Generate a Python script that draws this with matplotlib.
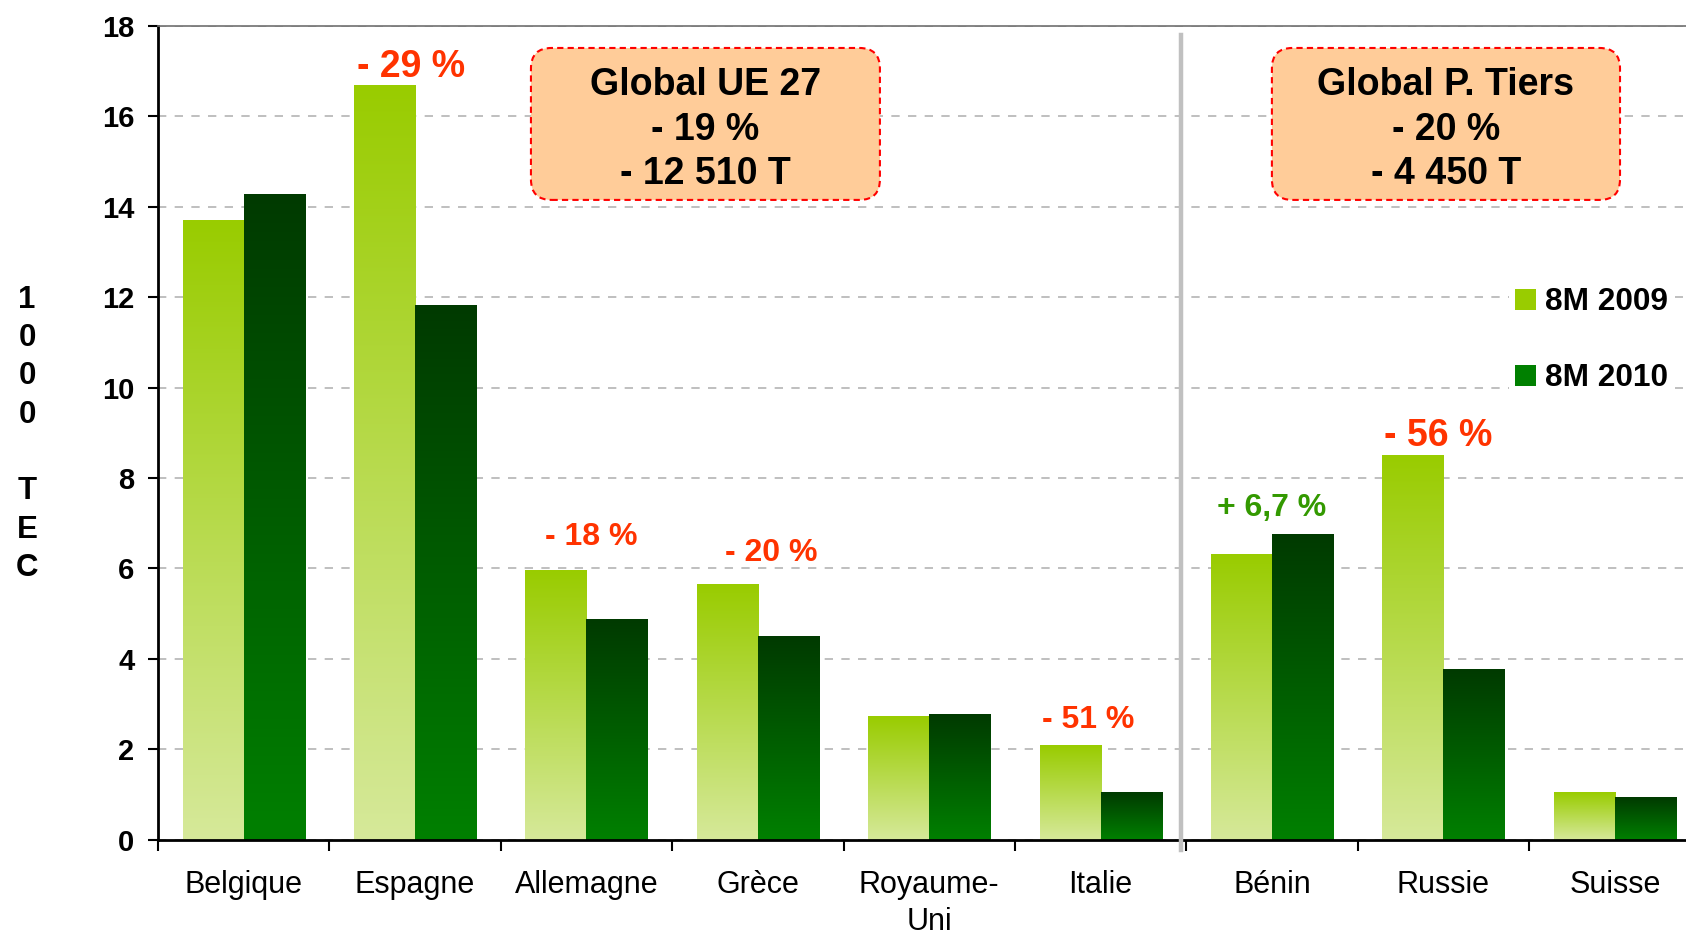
import numpy as np
import matplotlib.pyplot as plt
from matplotlib.colors import LinearSegmentedColormap
from matplotlib.patches import FancyBboxPatch, Patch

# Données (milliers de TEC, 8 premiers mois)
pays = ['Belgique', 'Espagne', 'Allemagne', 'Grèce', 'Royaume-\nUni', 'Italie',
        'Bénin', 'Russie', 'Suisse']
val_2009 = [13.70, 16.69, 5.97, 5.66, 2.73, 2.09, 6.32, 8.51, 1.05]
val_2010 = [14.27, 11.82, 4.87, 4.49, 2.78, 1.05, 6.75, 3.78, 0.93]
series = ['8M 2009', '8M 2010']

variations = ['- 29 %', '- 18 %', '- 20 %', '- 51 %', '+ 6,7 %', '- 56 %']
global_ue = ['Global UE 27', '- 19 %', '- 12 510 T']
global_tiers = ['Global P. Tiers', '- 20 %', '- 4 450 T']

# positions des étiquettes de variation (x, y, taille, couleur)
pos_var = [(0.975, 17.10, 27, '#FF3300'), (2.03, 6.70, 23, '#FF3300'),
           (3.08, 6.35, 23, '#FF3300'), (4.93, 2.66, 23, '#FF3300'),
           (6.00, 7.34, 23, '#339900'), (6.97, 8.94, 27, '#FF3300')]

fig = plt.figure(figsize=(16.86, 9.35), dpi=100)
ax = fig.add_axes([0.0937, 0.1018, 0.9063, 0.8706])

x = np.arange(len(pays))
w = 0.356
b1 = ax.bar(x - w / 2, val_2009, w, color='none')
b2 = ax.bar(x + w / 2, val_2010, w, color='none')

# dégradés verticaux
cm1 = LinearSegmentedColormap.from_list('c1', ['#D6E99A', '#99CC00'])
cm2 = LinearSegmentedColormap.from_list('c2', ['#008000', '#003A00'])
grad = np.linspace(0, 1, 256).reshape(-1, 1)
for bars, cm in [(b1, cm1), (b2, cm2)]:
    for p in bars:
        x0, h, bw = p.get_x(), p.get_height(), p.get_width()
        ax.imshow(grad, cmap=cm, origin='lower', aspect='auto',
                  extent=(x0, x0 + bw, 0, h), zorder=2)

ax.set_yticks(range(0, 19, 2))
ax.set_yticklabels([str(v) for v in range(0, 19, 2)], fontsize=21,
                   fontweight='bold', family='Liberation Sans')
ax.set_xticks(np.arange(-0.5, 9, 1))
ax.set_xticklabels([])
ax.set_xticks(x, minor=True)
ax.set_xticklabels(pays, minor=True, fontsize=22, family='Liberation Sans')
for lbl in ax.get_xticklabels(minor=True):
    lbl.set_linespacing(1.3)
ax.set_xlim(-0.5, 8.415)
ax.set_ylim(0, 18)
ax.tick_params(axis='x', which='minor', length=0, pad=22)
ax.tick_params(axis='x', which='major', length=8, width=1.5, direction='out')
ax.tick_params(axis='y', length=7, width=1.5, pad=10)

ax.set_axisbelow(True)
ax.yaxis.grid(True, color='#B4B4B4', linestyle=(0, (5, 5)), linewidth=1.2)
ax.spines['right'].set_visible(False)
ax.spines['left'].set_linewidth(2)
ax.spines['bottom'].set_linewidth(2)
ax.spines['top'].set_color('#707070')
ax.spines['top'].set_linewidth(1.2)

# séparateur UE / pays tiers
ax.plot([5.467, 5.467], [-0.22, 17.8], color='#C0C0C0', lw=3.2,
        clip_on=False, zorder=3)

for txt, (px, py, fs, col) in zip(variations, pos_var):
    ax.text(px, py, txt, ha='center', va='center', fontsize=fs,
            fontweight='bold', color=col, family='Liberation Sans')

# encadrés globaux
asp = 171.4 / 45.22
for lignes, (bx0, bx1) in [(global_ue, (1.676, 3.712)), (global_tiers, (5.999, 8.03))]:
    box = FancyBboxPatch((bx0, 14.15), bx1 - bx0, 17.51 - 14.15,
                         boxstyle='round,pad=0,rounding_size=0.12',
                         mutation_aspect=asp, facecolor='#FFCC99',
                         edgecolor='#FF0000', linestyle=(0, (3, 2)), lw=1.5,
                         zorder=4)
    ax.add_patch(box)
    ax.text((bx0 + bx1) / 2, 15.70, '\n'.join(lignes), ha='center', va='center',
            fontsize=27, fontweight='bold', family='Liberation Sans',
            linespacing=1.31, zorder=5)

handles = [Patch(facecolor='#99CC00'), Patch(facecolor='#008000')]
leg = ax.legend(handles, series, loc='center left', bbox_to_anchor=(0.8856, 0.636),
                bbox_transform=fig.transFigure, frameon=True, framealpha=1,
                edgecolor='none', fancybox=False, handlelength=0.65,
                handleheight=0.65, handletextpad=0.3, labelspacing=1.45,
                borderpad=0.2, prop={'family': 'Liberation Sans',
                                     'weight': 'bold', 'size': 22.8})

fig.text(0.016, 0.536, '1\n0\n0\n0\n \nT\nE\nC', ha='center', va='center',
         fontsize=22.5, fontweight='bold', family='Liberation Sans', linespacing=1.36)

fig.savefig('out.png', dpi=100)
